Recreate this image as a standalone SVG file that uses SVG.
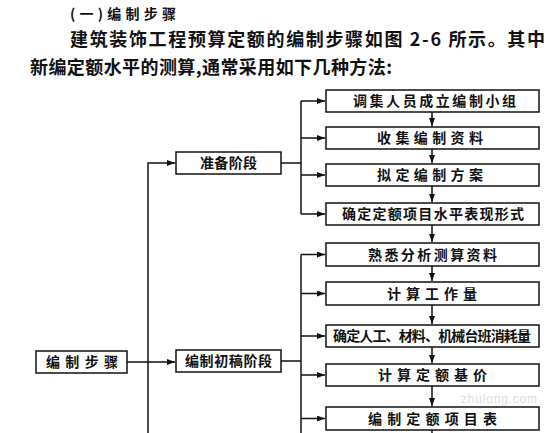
<svg xmlns="http://www.w3.org/2000/svg" width="560" height="433" viewBox="0 0 560 433">
<style>
.bg{fill:#fff}
.box{fill:#fff;stroke:#111;stroke-width:1.5}
.ln{fill:none;stroke:#111;stroke-width:1.5}
.t{font-family:"Noto Sans CJK SC","Noto Sans",sans-serif;font-weight:700;fill:#111;font-size:14px}
.h{font-family:"Noto Sans CJK SC","Noto Sans",sans-serif;font-weight:700;fill:#111}
.wm{font-family:"Liberation Sans",sans-serif;fill:#ddd;font-size:12px}
</style>
<defs>
<marker id="ah" markerUnits="userSpaceOnUse" markerWidth="8" markerHeight="6" refX="8" refY="3" orient="auto">
<path d="M0,0 L8,3 L0,6 z" fill="#111"/>
</marker>
</defs>
<rect class="bg" x="0" y="0" width="560" height="433"/>
<g id="header">
<text class="h" x="70" y="19" font-size="14" textLength="106" lengthAdjust="spacing">(一)编制步骤</text>
<text class="h" x="70" y="46" font-size="18" textLength="475" lengthAdjust="spacing">建筑装饰工程预算定额的编制步骤如图 2-6 所示。其中</text>
<text class="h" x="30" y="74" font-size="18" textLength="362" lengthAdjust="spacing">新编定额水平的测算,通常采用如下几种方法:</text>
</g>
<text class="wm" x="461" y="403" textLength="76" lengthAdjust="spacing">zhulong.com</text>
<g id="connectors">
<path class="ln" d="M148,433 V163 H175" marker-end="url(#ah)"/>
<path class="ln" d="M127,362 H175" marker-end="url(#ah)"/>
<path class="ln" d="M281,163 H301"/>
<path class="ln" d="M301,101 V214"/>
<path class="ln" d="M301,101 H325" marker-end="url(#ah)"/>
<path class="ln" d="M301,138 H325" marker-end="url(#ah)"/>
<path class="ln" d="M301,175 H325" marker-end="url(#ah)"/>
<path class="ln" d="M301,214 H325" marker-end="url(#ah)"/>
<path class="ln" d="M281,361 H301"/>
<path class="ln" d="M301,254.5 V433"/>
<path class="ln" d="M301,254.5 H325" marker-end="url(#ah)"/>
<path class="ln" d="M301,293.5 H325" marker-end="url(#ah)"/>
<path class="ln" d="M301,336 H325" marker-end="url(#ah)"/>
<path class="ln" d="M301,375 H325" marker-end="url(#ah)"/>
<path class="ln" d="M301,418.5 H325" marker-end="url(#ah)"/>
<path class="ln" d="M432,112 V126" marker-end="url(#ah)"/>
<path class="ln" d="M432,149 V163" marker-end="url(#ah)"/>
<path class="ln" d="M432,186 V202" marker-end="url(#ah)"/>
<path class="ln" d="M432,225 V242" marker-end="url(#ah)"/>
<path class="ln" d="M432,266 V281" marker-end="url(#ah)"/>
<path class="ln" d="M432,305 V324" marker-end="url(#ah)"/>
<path class="ln" d="M432,347 V363" marker-end="url(#ah)"/>
<path class="ln" d="M432,386 V406" marker-end="url(#ah)"/>
<path class="ln" d="M432,430 V433"/>
</g>
<g id="n-bzbz"><rect class="box" x="36" y="351" width="91" height="22"/><text class="t" x="46" y="367" textLength="72" lengthAdjust="spacing">编制步骤</text></g>
<g id="n-zbjd"><rect class="box" x="176" y="152" width="105" height="22"/><text class="t" x="200" y="168" textLength="57" lengthAdjust="spacing">准备阶段</text></g>
<g id="n-bzcgjd"><rect class="box" x="176" y="350" width="105" height="22"/><text class="t" x="185" y="366" textLength="87" lengthAdjust="spacing">编制初稿阶段</text></g>
<g id="n1"><rect class="box" x="326" y="90" width="213" height="22"/><text class="t" x="353" y="106" textLength="163" lengthAdjust="spacing">调集人员成立编制小组</text></g>
<g id="n2"><rect class="box" x="326" y="127" width="213" height="22"/><text class="t" x="377" y="143" textLength="106" lengthAdjust="spacing">收集编制资料</text></g>
<g id="n3"><rect class="box" x="326" y="164" width="213" height="22"/><text class="t" x="377" y="180" textLength="106" lengthAdjust="spacing">拟定编制方案</text></g>
<g id="n4"><rect class="box" x="326" y="203" width="213" height="22"/><text class="t" x="342" y="219" textLength="182" lengthAdjust="spacing">确定定额项目水平表现形式</text></g>
<g id="n5"><rect class="box" x="326" y="243" width="213" height="23"/><text class="t" x="368" y="259.5" textLength="129" lengthAdjust="spacing">熟悉分析测算资料</text></g>
<g id="n6"><rect class="box" x="326" y="282" width="213" height="23"/><text class="t" x="387" y="298.5" textLength="90" lengthAdjust="spacing">计算工作量</text></g>
<g id="n7"><rect class="box" x="326" y="325" width="213" height="22"/><text class="t" x="333" y="341" font-size="13" textLength="198" lengthAdjust="spacing">确定人工、材料、机械台班消耗量</text></g>
<g id="n8"><rect class="box" x="326" y="364" width="213" height="22"/><text class="t" x="378" y="380" textLength="109" lengthAdjust="spacing">计算定额基价</text></g>
<g id="n9"><rect class="box" x="326" y="407" width="213" height="23"/><text class="t" x="368" y="423.5" textLength="129" lengthAdjust="spacing">编制定额项目表</text></g>
</svg>
